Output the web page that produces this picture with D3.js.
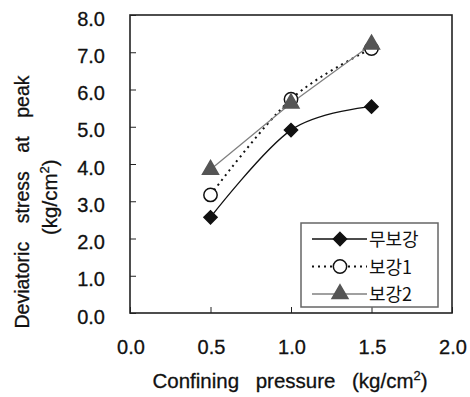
<!DOCTYPE html>
<html>
<head>
<meta charset="utf-8">
<script src="https://cdn.jsdelivr.net/npm/d3@7"></script>
<style>
  body { margin: 0; background: #fff; }
  text { font-family: "Liberation Sans", Arial, sans-serif; fill: #111; }
  .num { stroke: #111; stroke-width: 0.3; }
  .kr { font-family: "Noto Sans CJK KR", sans-serif; }
</style>
</head>
<body>
<div id="chart"></div>
<script>
const pressure = [0.5, 1.0, 1.5];
const unreinforced = [2.57, 4.91, 5.54];
const reinforced1 = [3.17, 5.74, 7.10];
const reinforced2 = [3.85, 5.63, 7.21];
const seriesNames = ["무보강", "보강1", "보강2"];
const xTicks = [0, 0.5, 1.0, 1.5, 2.0];
const yTicks = [0, 1, 2, 3, 4, 5, 6, 7, 8];

const W = 470, H = 397;
const m = { t: 15, r: 18, b: 84, l: 130 };
const svg = d3.select("#chart").append("svg").attr("width", W).attr("height", H);

const x = d3.scaleLinear().domain([0, 2]).range([m.l, W - m.r]);
const y = d3.scaleLinear().domain([0, 8]).range([H - m.b, m.t]);

// lay out words one by one so the wide gaps of the original can be matched
function wordRow(parent, words, span, size) {
  const g = parent.append("g");
  const nodes = words.map(w => {
    const t = g.append("text").attr("class", "num").attr("font-size", size);
    t.append("tspan").text(w[0]);
    if (w[1]) {
      t.append("tspan").attr("dy", -8).attr("font-size", size * 0.63).text(w[1]);
      t.append("tspan").attr("dy", 8).text(")");
    }
    return t;
  });
  const lens = nodes.map(t => t.node().getComputedTextLength());
  const gap = (span - d3.sum(lens)) / (words.length - 1);
  let cx = -span / 2;
  nodes.forEach((t, i) => { t.attr("x", cx); cx += lens[i] + gap; });
  return g;
}

// frame
svg.append("rect")
  .attr("x", x(0)).attr("y", y(8))
  .attr("width", x(2) - x(0)).attr("height", y(0) - y(8))
  .attr("fill", "none").attr("stroke", "#222").attr("stroke-width", 1.6);

// axes, ticks inside
const ax = svg.append("g").attr("transform", `translate(0,${y(0)})`)
  .call(d3.axisTop(x).tickValues(xTicks).tickSize(6).tickFormat(""));
const ay = svg.append("g").attr("transform", `translate(${x(0)},0)`)
  .call(d3.axisRight(y).tickValues(yTicks).tickSize(6).tickFormat(""));
[ax, ay].forEach(g => {
  g.select(".domain").remove();
  g.selectAll("line").attr("stroke", "#222").attr("stroke-width", 1);
});

// tick labels
svg.append("g").selectAll("text").data(xTicks).join("text")
  .attr("class", "num")
  .attr("x", d => x(d) + 1).attr("y", y(0) + 41)
  .attr("text-anchor", "middle").attr("font-size", 20)
  .text(d => d.toFixed(1));
svg.append("g").selectAll("text").data(yTicks).join("text")
  .attr("class", "num")
  .attr("x", x(0) - 25).attr("y", d => y(d) + 10.5)
  .attr("text-anchor", "end").attr("font-size", 20)
  .text(d => d.toFixed(1));

// axis titles
wordRow(svg, [["Confining"], ["pressure"], ["(kg/cm", "2"]], 275, 20.5)
  .attr("transform", "translate(290,388)");

const yt = svg.append("g").attr("transform", "translate(29,202) rotate(-90)");
wordRow(yt, [["Deviatoric"], ["stress"], ["at"], ["peak"]], 253, 19.5);
wordRow(yt, [["(kg/cm", "2"], [""]], 80, 20.5).attr("transform", "translate(7,28)");

const series = [
  { name: seriesNames[0], vals: unreinforced, stroke: "#111", dash: null, curve: d3.curveCatmullRom.alpha(0), sym: d3.symbolDiamond2, size: 110, fill: "#111", mstroke: "#111" },
  { name: seriesNames[1], vals: reinforced1, stroke: "#111", dash: "2,4", curve: d3.curveCatmullRom.alpha(0), sym: d3.symbolCircle, size: 140, fill: "#fff", mstroke: "#111" },
  { name: seriesNames[2], vals: reinforced2, stroke: "#808080", dash: null, curve: d3.curveLinear, sym: d3.symbolTriangle, size: 110, fill: "#555", mstroke: "#555" }
];

series.forEach(s => {
  const pts = pressure.map((p, i) => [p, s.vals[i]]);
  svg.append("path").datum(pts)
    .attr("fill", "none").attr("stroke", s.stroke).attr("stroke-width", s.dash ? 2 : 1.3)
    .attr("stroke-dasharray", s.dash)
    .attr("d", d3.line().x(d => x(d[0])).y(d => y(d[1])).curve(s.curve));
});
series.forEach(s => {
  const pts = pressure.map((p, i) => [p, s.vals[i]]);
  svg.append("g").selectAll("path").data(pts).join("path")
    .attr("transform", d => `translate(${x(d[0])},${y(d[1])})`)
    .attr("d", d3.symbol().type(s.sym).size(s.size))
    .attr("fill", s.fill).attr("stroke", s.mstroke).attr("stroke-width", 1.5);
});

// legend
const lg = svg.append("g");
lg.append("rect").attr("x", 301).attr("y", 223).attr("width", 137).attr("height", 84)
  .attr("fill", "#fff").attr("stroke", "#666").attr("stroke-width", 1.5);
series.forEach((s, i) => {
  const ly = 239 + i * 27.5;
  lg.append("line").attr("x1", 312).attr("x2", 367).attr("y1", ly).attr("y2", ly)
    .attr("stroke", s.stroke).attr("stroke-width", s.dash ? 2 : 1.3).attr("stroke-dasharray", s.dash);
  lg.append("path").attr("transform", `translate(340,${ly})`)
    .attr("d", d3.symbol().type(s.sym).size(s.size))
    .attr("fill", s.fill).attr("stroke", s.mstroke).attr("stroke-width", 1.5);
  lg.append("text").attr("class", "kr").attr("x", 369).attr("y", ly + 7)
    .attr("font-size", 18).attr("fill", "#333").text(s.name);
});
</script>
</body>
</html>
